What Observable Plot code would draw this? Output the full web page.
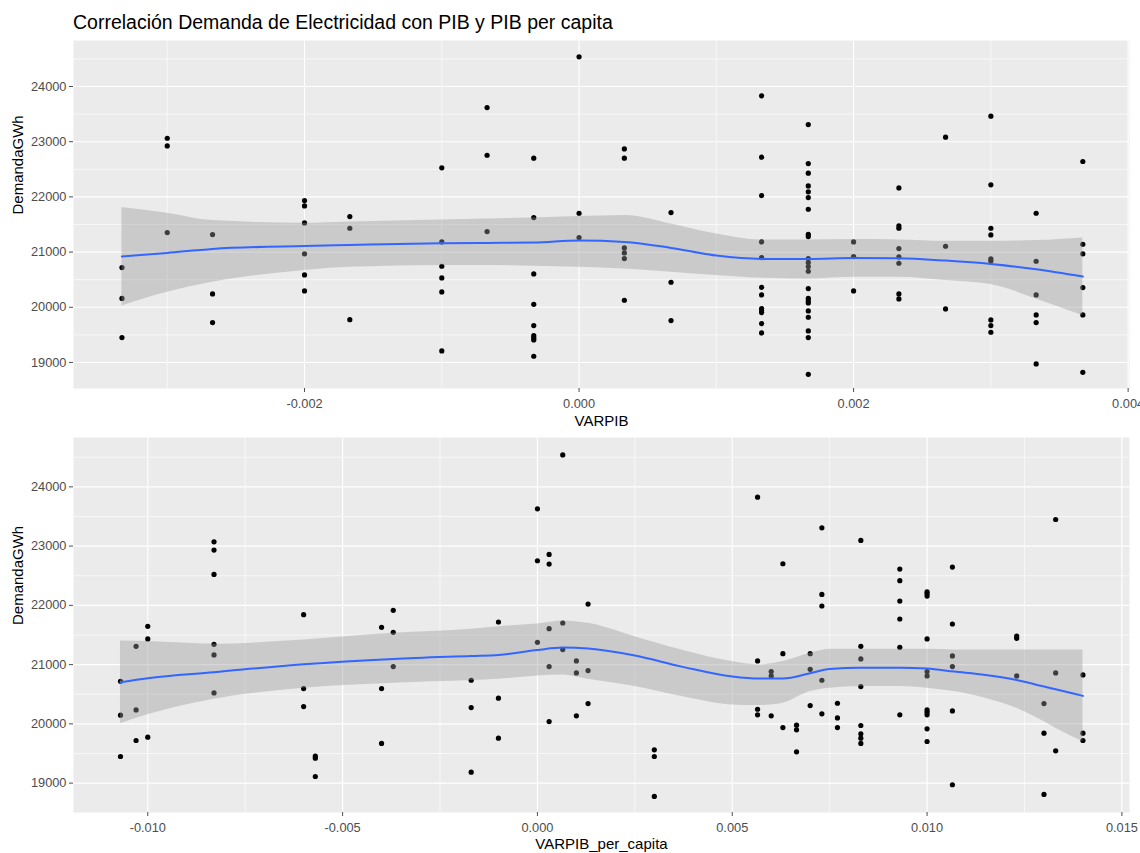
<!DOCTYPE html>
<html><head><meta charset="utf-8">
<script src="https://cdn.jsdelivr.net/npm/d3@7"></script>
<script src="https://cdn.jsdelivr.net/npm/@observablehq/plot@0.6"></script>
<style>
body{margin:0;background:#fff;font-family:"Liberation Sans",Arial,sans-serif;}
#title{height:36px;box-sizing:border-box;padding:12px 0 0 73px;font-size:19.5px;line-height:20px;color:#000;white-space:nowrap;}
svg{display:block}
</style></head><body>
<div id="title">Correlación Demanda de Electricidad con PIB y PIB per capita</div>
<div id="chart"></div>
<script>
// ---- Panel 1: VARPIB vs DemandaGWh ----
const pibX = [-0.00333, -0.003, -0.00267, -0.002, -0.00167, -0.001, -0.00067, -0.00033, 0,
  0.00033, 0.00067, 0.00133, 0.00167, 0.002, 0.00233, 0.00267, 0.003, 0.00333, 0.00367];
const pibDemand = [
  [20720, 20160, 19450],
  [23063, 22924, 21353],
  [21317, 20242, 19722],
  [21934, 21837, 21529, 20967, 20586, 20296],
  [21644, 21432, 19776],
  [22526, 21184, 20743, 20532, 20278, 19208],
  [23619, 22755, 21372],
  [22701, 21625, 20604, 20054, 19668, 19486, 19444, 19408, 19112],
  [24538, 21704, 21263],
  [22870, 22701, 21076, 20985, 20882, 20127],
  [21716, 20453, 19758],
  [23831, 22719, 22024, 21184, 20900, 20362, 20224, 19976, 19940, 19903, 19704, 19535],
  [23311, 22604, 22429, 22199, 22091, 21988, 21776, 21323, 21281, 20882, 20810, 20737, 20653, 20338, 20163, 20115, 20079, 19934, 19819, 19571, 19450, 18785],
  [21184, 20918, 20296],
  [22163, 21474, 21432, 21063, 20912, 20798, 20242, 20151],
  [23082, 21106, 19970],
  [23462, 22218, 21432, 21311, 20876, 20840, 19770, 19668, 19547],
  [21704, 20834, 20224, 19861, 19722, 18973],
  [22641, 21142, 20967, 20356, 19861, 18822]
];
// loess fit
const pibSmoothX = [-0.00333, -0.003, -0.00267, -0.002, -0.00167, -0.001, -0.00067, -0.00033, 0,
  0.00033, 0.00067, 0.001, 0.00133, 0.00167, 0.002, 0.00233, 0.00267, 0.003, 0.00333, 0.00367];
const pibFit = [20918, 20985, 21057, 21112, 21130, 21160, 21166, 21172, 21208, 21184, 21076, 20936, 20876, 20876, 20894, 20888, 20846, 20785, 20689, 20556];
const pibLow = [20024, 20272, 20453, 20665, 20725, 20755, 20755, 20743, 20725, 20695, 20634, 20574, 20526, 20514, 20544, 20544, 20483, 20411, 20151, 19849];
const pibHigh = [21807, 21704, 21571, 21523, 21547, 21583, 21601, 21619, 21643, 21662, 21510, 21329, 21220, 21220, 21227, 21220, 21196, 21196, 21208, 21257];

// ---- Panel 2: VARPIB_per_capita vs DemandaGWh ----
const pcX = [-0.0107, -0.0103, -0.0100, -0.0083, -0.0060, -0.0057, -0.0040, -0.0037, -0.0017, -0.0010,
  0.0000, 0.0003, 0.00065, 0.0010, 0.0013, 0.0030, 0.00565, 0.0060, 0.0063, 0.00665, 0.0070, 0.0073,
  0.0077, 0.0083, 0.0093, 0.0100, 0.01065, 0.0123, 0.0130, 0.0133, 0.0140];
const pcDemand = [
  [20719, 20146, 19449],
  [21309, 20236, 19719],
  [21646, 21433, 19775],
  [23073, 22933, 22522, 21343, 21163, 20522],
  [21843, 20596, 20292],
  [19455, 19421, 19112],
  [21629, 20596, 19669],
  [21916, 21545, 20966],
  [20736, 20275, 19185],
  [21719, 20433, 19758],
  [23629, 22753, 21376],
  [22860, 22697, 21607, 20966, 20039],
  [24539, 21702, 21253],
  [21062, 20860, 20135],
  [22022, 20899, 20343],
  [19562, 19449, 18775],
  [23826, 21062, 20247, 20152],
  [20882, 20809, 20135],
  [22702, 21185, 19938],
  [19978, 19899, 19528],
  [21185, 20921, 20309],
  [23309, 22185, 21989, 20736, 20169],
  [20348, 20101, 19938],
  [23096, 21309, 21096, 20629, 19972, 19831, 19758, 19669],
  [22612, 22416, 22073, 21770, 21292, 20152],
  [22230, 22197, 22157, 21433, 20882, 20809, 20236, 20197, 20152, 19916, 19702],
  [22646, 21685, 21146, 20966, 20219, 18972],
  [21483, 21444, 20809],
  [20343, 19843, 18809],
  [23449, 20860, 19545],
  [20826, 19843, 19719]
];
const pcSmoothX = [-0.0107, -0.0100, -0.0083, -0.0060, -0.0037, -0.0017, -0.0010, 0.0000, 0.00065, 0.0013,
  0.0025, 0.0037, 0.0050, 0.0057, 0.0063, 0.0070, 0.0075, 0.0083, 0.0093, 0.0100, 0.0107, 0.0115,
  0.0123, 0.0130, 0.0133, 0.0140];
const pcFit = [20702, 20770, 20871, 21006, 21096, 21146, 21163, 21247, 21287, 21270, 21152, 20966, 20798, 20764, 20764, 20854, 20927, 20949, 20949, 20933, 20882, 20826, 20742, 20629, 20584, 20472];
const pcLow = [20000, 20152, 20416, 20601, 20685, 20730, 20753, 20809, 20826, 20753, 20629, 20461, 20320, 20309, 20348, 20545, 20601, 20629, 20629, 20601, 20545, 20433, 20264, 20039, 19927, 19702];
const pcHigh = [21399, 21388, 21343, 21416, 21528, 21596, 21640, 21685, 21736, 21697, 21472, 21247, 21051, 20994, 21051, 21191, 21258, 21258, 21258, 21258, 21247, 21247, 21247, 21247, 21247, 21247];

// ---- ticks ----
const yTicks = [19000, 20000, 21000, 22000, 23000, 24000];
const yMinor = [19500, 20500, 21500, 22500, 23500, 24500];
const pibTicks = [-0.002, 0, 0.002, 0.004];
const pibMinor = [-0.003, -0.001, 0.001, 0.003];
const pcTicks = [-0.010, -0.005, 0, 0.005, 0.010, 0.015];
const pcMinor = [-0.0075, -0.0025, 0.0025, 0.0075, 0.0125];

function points(xs, groups) {
  const out = [];
  xs.forEach((x, i) => groups[i].forEach(y => out.push({x, y})));
  return out;
}
function smooth(xs, fit, lo, hi) {
  return xs.map((x, i) => ({x, fit: fit[i], lo: lo[i], hi: hi[i]}));
}
const fmtX = d => (d < 0 ? "-" : "") + Math.abs(d).toFixed(3);
const FONT = '"Liberation Sans", Arial, sans-serif';

function panel(o) {
  return Plot.plot({
    width: 1140, height: o.height,
    marginLeft: 73, marginRight: 11, marginTop: o.marginTop, marginBottom: o.marginBottom,
    style: {fontFamily: FONT, fontSize: "12.8px", background: "white", color: "#4D4D4D"},
    x: {domain: o.xDomain},
    y: {domain: o.yDomain},
    marks: [
      Plot.frame({fill: "#EBEBEB", stroke: null}),
      Plot.ruleX(o.xMinor, {stroke: "white", strokeWidth: 0.6}),
      Plot.ruleY(yMinor, {stroke: "white", strokeWidth: 0.6}),
      Plot.ruleX(o.xTicks, {stroke: "white", strokeWidth: 1.1}),
      Plot.ruleY(yTicks, {stroke: "white", strokeWidth: 1.1}),
      Plot.dot(o.points, {x: "x", y: "y", r: 2.6, fill: "black", stroke: null}),
      Plot.areaY(o.smooth, {x: "x", y1: "lo", y2: "hi", fill: "#999999", fillOpacity: 0.4, curve: "monotone-x"}),
      Plot.line(o.smooth, {x: "x", y: "fit", stroke: "#3366FF", strokeWidth: 2, curve: "monotone-x"}),
      Plot.axisX({ticks: o.xTicks, tickFormat: fmtX, tickSize: 4, tickPadding: 6, fontSize: 12.8, color: "#4D4D4D", label: null}),
      Plot.axisY({ticks: yTicks, tickFormat: d => String(d), tickSize: 4, tickPadding: 3, fontSize: 12.8, color: "#4D4D4D", label: null}),
      Plot.text([o.xLabel], {text: d => d, frameAnchor: "bottom", dy: o.xLabelDy, fontSize: 15, fill: "black", lineAnchor: "middle"}),
      Plot.text(["DemandaGWh"], {text: d => d, frameAnchor: "left", dx: -55, rotate: -90, fontSize: 15, fill: "black", lineAnchor: "middle"})
    ]
  });
}

const chart = document.getElementById("chart");
chart.appendChild(panel({
  height: 392, marginTop: 4, marginBottom: 40,
  xDomain: [-0.003683, 0.00401], yDomain: [18528, 24834],
  xTicks: pibTicks, xMinor: pibMinor,
  points: points(pibX, pibDemand),
  smooth: smooth(pibSmoothX, pibFit, pibLow, pibHigh),
  xLabel: "VARPIB", xLabelDy: 33
}));
chart.appendChild(panel({
  height: 425, marginTop: 9, marginBottom: 41,
  xDomain: [-0.011906, 0.015195], yDomain: [18504, 24833],
  xTicks: pcTicks, xMinor: pcMinor,
  points: points(pcX, pcDemand),
  smooth: smooth(pcSmoothX, pcFit, pcLow, pcHigh),
  xLabel: "VARPIB_per_capita", xLabelDy: 31.5
}));
</script>
</body></html>
